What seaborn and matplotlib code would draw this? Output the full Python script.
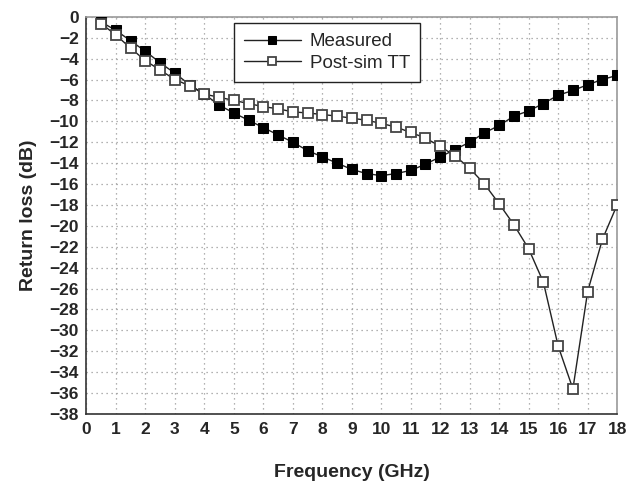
import matplotlib
matplotlib.use("Agg")
import matplotlib.pyplot as plt
import seaborn as sns
import numpy as np
import pandas as pd
from matplotlib.ticker import MultipleLocator

freq = [0.5, 1.0, 1.5, 2.0, 2.5, 3.0, 3.5, 4.0, 4.5, 5.0, 5.5, 6.0, 6.5, 7.0, 7.5, 8.0, 8.5, 9.0,
        9.5, 10.0, 10.5, 11.0, 11.5, 12.0, 12.5, 13.0, 13.5, 14.0, 14.5, 15.0, 15.5, 16.0, 16.5,
        17.0, 17.5, 18.0]
measured = [-0.5, -1.3, -2.3, -3.3, -4.4, -5.4, -6.5, -7.4, -8.45, -9.2, -9.9, -10.6, -11.3, -12.0,
            -12.8, -13.4, -14.0, -14.6, -15.0, -15.2, -15.0, -14.7, -14.1, -13.4, -12.7, -12.0,
            -11.1, -10.4, -9.5, -9.0, -8.3, -7.5, -7.05, -6.5, -6.0, -5.6]
postsim = [-0.65, -1.75, -3.0, -4.2, -5.1, -6.0, -6.6, -7.4, -7.7, -8.0, -8.3, -8.6, -8.8, -9.1,
           -9.2, -9.35, -9.5, -9.7, -9.9, -10.2, -10.55, -11.07, -11.6, -12.4, -13.3, -14.5,
           -16.0, -17.9, -19.9, -22.2, -25.4, -31.5, -35.6, -26.3, -21.3, -18.0]
labels = ["Measured", "Post-sim TT"]

sns.set_style("white")
plt.rcParams['font.family'] = ['Liberation Sans', 'DejaVu Sans']

df = pd.DataFrame({"f": freq, "m": measured, "p": postsim})

fig = plt.figure(figsize=(6.31, 4.94), dpi=100)
ax = fig.add_axes([0.137, 0.162, 0.841, 0.804])

sns.lineplot(data=df, x="f", y="m", ax=ax, color="#222222", lw=1.0, marker="s",
             markersize=7.3, markerfacecolor="black", markeredgecolor="black",
             label=labels[0], zorder=3)
sns.lineplot(data=df, x="f", y="p", ax=ax, color="#222222", lw=1.0, marker="s",
             markersize=7.3, markerfacecolor="white", markeredgecolor="#444444",
             markeredgewidth=1.3, label=labels[1], zorder=4)

ax.set_xlim(0, 18)
ax.set_ylim(-38, 0)
ax.xaxis.set_major_locator(MultipleLocator(1))
ax.xaxis.set_minor_locator(MultipleLocator(0.5))
ax.yaxis.set_major_locator(MultipleLocator(2))
ax.yaxis.set_minor_locator(MultipleLocator(1))
ax.grid(True, which="major", linestyle=(0, (1, 3)), color="#999999", lw=0.9)
ax.tick_params(axis="both", which="major", direction="inout", length=7, width=1,
               labelsize=12.5, color="#333333", pad=2)
ax.tick_params(axis="both", which="minor", direction="out", length=3, width=1, color="#333333")
for lab in ax.get_xticklabels() + ax.get_yticklabels():
    lab.set_fontweight("bold")

for s in ["left", "bottom"]:
    ax.spines[s].set_color("#333333")
    ax.spines[s].set_linewidth(1.2)
for s in ["top", "right"]:
    ax.spines[s].set_color("#999999")
    ax.spines[s].set_linewidth(1.2)

ax.set_xlabel("Frequency (GHz)", fontsize=14, fontweight="bold", labelpad=20)
ax.set_ylabel("Return loss (dB)", fontsize=14, fontweight="bold", labelpad=9)

leg = ax.legend(loc="upper left", bbox_to_anchor=(0.278, 0.985), borderaxespad=0,
                fontsize=13.5, frameon=True, fancybox=False, edgecolor="#222222",
                framealpha=1, handlelength=3.0, borderpad=0.55, labelspacing=0.25,
                handletextpad=0.5, markerscale=0.75)
leg.get_frame().set_linewidth(1.0)

fig.savefig("out.png", dpi=100)
